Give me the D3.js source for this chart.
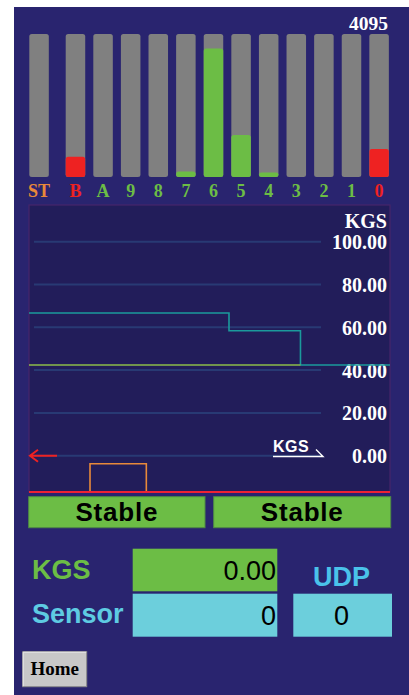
<!DOCTYPE html>
<html><head><meta charset="utf-8">
<script src="https://cdn.jsdelivr.net/npm/d3@7"></script>
<style>
html,body{margin:0;padding:0;background:#fff;}
svg{display:block;}
</style></head>
<body>
<svg id="c" width="409" height="695"></svg>
<script>
// ---- data ----
const barLabels = ["ST","B","A","9","8","7","6","5","4","3","2","1","0"];
const barValues = [0, 580, 0, 0, 0, 160, 3680, 1200, 130, 0, 0, 0, 800];
const barMax = 4095;
const barColors = ["#e8893a","#ee2222","#6cbd45","#6cbd45","#6cbd45","#6cbd45","#6cbd45","#6cbd45","#6cbd45","#6cbd45","#6cbd45","#6cbd45","#ee2222"];
const fillColors = ["#6cbd45","#ee2222","#6cbd45","#6cbd45","#6cbd45","#6cbd45","#6cbd45","#6cbd45","#6cbd45","#6cbd45","#6cbd45","#6cbd45","#ee2222"];
const yTicks = [0, 20, 40, 60, 80, 100];
const trendX = [0, 55.4, 75.2, 100];
const trendY = [66.7, 58.4, 42.4, 42.4];
const setX = [0, 75.2];
const setY = [42.4, 42.4];
const pulseX = [0, 16.9, 32.5, 100];
const pulseY = [0, 1, 0, 0];
const statusTexts = ["Stable", "Stable"];
const kgsValue = "0.00";
const sensorValue = "0";
const udpValue = "0";

const svg = d3.select("#c");
const BG = "#29246f";
svg.append("rect").attr("x",14).attr("y",7).attr("width",395).attr("height",688).attr("fill",BG);

// ---- bar gauges ----
const xb = d3.scaleBand().domain(barLabels.slice(1)).range([61.66, 392.9]).paddingInner(0.293).paddingOuter(0.1465);
const bx = d => d === "ST" ? xb("B") - 36.4 : xb(d);
const yb = d3.scaleLinear().domain([0, barMax]).range([177, 34]);
const bw = xb.bandwidth();

const g = svg.append("g");
barLabels.forEach((lab, i) => {
  g.append("rect").attr("x", bx(lab)).attr("y", yb(barMax)).attr("width", bw)
   .attr("height", yb(0) - yb(barMax)).attr("rx", 2.5).attr("fill", "#808080");
  if (barValues[i] > 0) {
    g.append("rect").attr("x", bx(lab)).attr("y", yb(barValues[i])).attr("width", bw)
     .attr("height", yb(0) - yb(barValues[i])).attr("rx", 2.5).attr("fill", fillColors[i]);
  }
  g.append("text").attr("x", bx(lab) + bw/2).attr("y", 197).attr("text-anchor","middle")
   .attr("font-family","Liberation Serif, serif").attr("font-weight","bold").attr("font-size",18)
   .attr("fill", barColors[i]).text(lab);
});
g.append("text").attr("x", 388).attr("y", 29.5).attr("text-anchor","end")
 .attr("font-family","Liberation Serif, serif").attr("font-weight","bold").attr("font-size",19.5)
 .attr("fill","#fff").text(String(barMax));

// ---- trend panel ----
const P = {l:29, t:205, r:390, b:492};
svg.append("rect").attr("x",P.l).attr("y",P.t).attr("width",P.r-P.l).attr("height",P.b-P.t)
  .attr("fill","#221d5a").attr("stroke","#46256a").attr("stroke-width",1.2);
const y = d3.scaleLinear().domain([0,100]).range([455.7, 241.7]);
const x = d3.scaleLinear().domain([0,100]).range([P.l, P.r]);
const yp = d3.scaleLinear().domain([0,1]).range([492, 463.7]);

svg.append("g").selectAll("line").data(yTicks).join("line")
  .attr("x1",34).attr("x2",321).attr("y1",d=>y(d)).attr("y2",d=>y(d))
  .attr("stroke","#283a74").attr("stroke-width",2);

const yAxis = d3.axisRight(y).tickValues(yTicks).tickFormat(d3.format(".2f")).tickSize(0).tickPadding(0);
const ax = svg.append("g").attr("transform","translate(387,0)").call(yAxis);
ax.select(".domain").remove();
ax.selectAll("text").attr("text-anchor","end").attr("x",0).attr("dy","0.35em")
  .attr("font-family","Liberation Serif, serif").attr("font-weight","bold").attr("font-size",20).attr("fill","#fff");
svg.append("text").attr("x",387).attr("y",228).attr("text-anchor","end")
  .attr("font-family","Liberation Serif, serif").attr("font-weight","bold").attr("font-size",20).attr("fill","#fff").text("KGS");

const step = d3.line().curve(d3.curveStepAfter);
svg.append("path").attr("d", step(trendX.map((d,i)=>[x(d), y(trendY[i])])))
  .attr("fill","none").attr("stroke","#1b9a9c").attr("stroke-width",1.6);
svg.append("path").attr("d", d3.line()(setX.map((d,i)=>[x(d), y(setY[i])])))
  .attr("fill","none").attr("stroke","#8cbd4a").attr("stroke-width",1.6);
svg.append("path").attr("d", step(pulseX.map((d,i)=>[x(d), yp(pulseY[i])])))
  .attr("fill","none").attr("stroke","#e8893a").attr("stroke-width",1.6);
svg.append("line").attr("x1",P.l).attr("x2",P.r).attr("y1",492).attr("y2",492)
  .attr("stroke","#ee2233").attr("stroke-width",2);

// red arrow at zero
const y0 = y(0);
svg.append("path").attr("d",`M57,${y0}H30M38,${y0-6}L30,${y0}L38,${y0+6}`)
  .attr("fill","none").attr("stroke","#ee2222").attr("stroke-width",2);

// KGS underlined label
svg.append("text").attr("x",273).attr("y",452).attr("font-family","Liberation Sans, Arial, sans-serif")
  .attr("font-weight","bold").attr("font-size",16).attr("letter-spacing",0.5).attr("fill","#fff").text("KGS");
svg.append("path").attr("d",`M273,456.5H323L316,449.5`).attr("fill","none").attr("stroke","#fff").attr("stroke-width",1.4);

// ---- status boxes ----
const statusX = [[28.7,205],[213.7,390.7]];
statusTexts.forEach((t,i)=>{
  const [a,b] = statusX[i];
  svg.append("rect").attr("x",a).attr("y",496.7).attr("width",b-a).attr("height",31)
    .attr("fill","#6cbd45").attr("stroke","#4f8a45").attr("stroke-width",1);
  svg.append("text").attr("x",(a+b)/2).attr("y",521).attr("text-anchor","middle")
    .attr("font-family","Liberation Sans, Arial, sans-serif").attr("font-weight","bold")
    .attr("font-size",26).attr("letter-spacing",0.8).attr("fill","#000").text(t);
});

// ---- value boxes ----
const sans = "Liberation Sans, Arial, sans-serif";
svg.append("text").attr("x",32).attr("y",579).attr("font-family",sans).attr("font-weight","bold")
  .attr("font-size",27).attr("fill","#6cbd45").text("KGS");
svg.append("rect").attr("x",132.7).attr("y",548.7).attr("width",144.6).attr("height",42.6).attr("fill","#6cbd45");
svg.append("text").attr("x",276).attr("y",580).attr("text-anchor","end").attr("font-family",sans)
  .attr("font-size",27).attr("fill","#000").text(kgsValue);

svg.append("text").attr("x",32).attr("y",623).attr("font-family",sans).attr("font-weight","bold")
  .attr("font-size",27).attr("fill","#5ecbe2").text("Sensor");
svg.append("rect").attr("x",132.7).attr("y",593.7).attr("width",144.6).attr("height",43).attr("fill","#6ccfdc");
svg.append("text").attr("x",276).attr("y",625).attr("text-anchor","end").attr("font-family",sans)
  .attr("font-size",27).attr("fill","#000").text(sensorValue);

svg.append("text").attr("x",341.5).attr("y",586).attr("text-anchor","middle").attr("font-family",sans).attr("font-weight","bold")
  .attr("font-size",27).attr("fill","#4ac2ea").text("UDP");
svg.append("rect").attr("x",293.3).attr("y",593.7).attr("width",98.7).attr("height",43).attr("fill","#6ccfdc");
svg.append("text").attr("x",341.5).attr("y",625).attr("text-anchor","middle").attr("font-family",sans)
  .attr("font-size",27).attr("fill","#000").text(udpValue);

// ---- Home button ----
svg.append("rect").attr("x",22.7).attr("y",651.7).attr("width",64).attr("height",35)
  .attr("fill","#c8c8c8").attr("stroke","#8a8a8a").attr("stroke-width",1);
svg.append("path").attr("d","M23.2,686.2V652.2H86.2").attr("fill","none").attr("stroke","#eee").attr("stroke-width",1);
svg.append("text").attr("x",54.7).attr("y",675).attr("text-anchor","middle").attr("font-family","Liberation Serif, serif")
  .attr("font-weight","bold").attr("font-size",19).attr("fill","#000").text("Home");
</script>
</body></html>
